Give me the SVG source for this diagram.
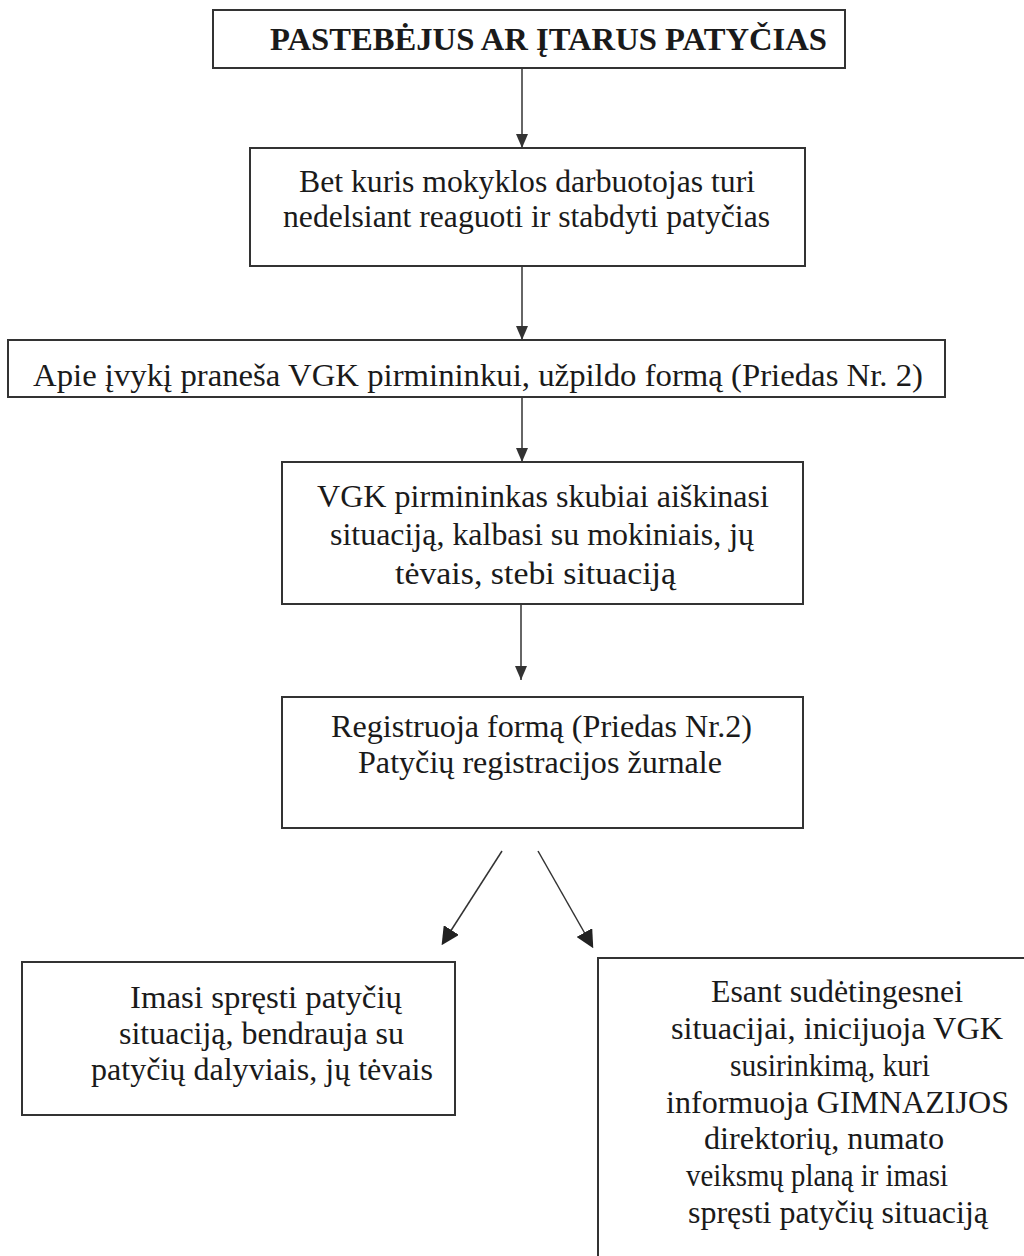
<svg xmlns="http://www.w3.org/2000/svg" width="1024" height="1256" viewBox="0 0 1024 1256">
<style>
.box{fill:#fff;stroke:#333;stroke-width:2}
.t{font-family:"Liberation Serif","DejaVu Serif",serif;font-size:32px;fill:#1a1a1a}
.b{font-weight:bold;font-size:31px}
.ln{stroke:#333;stroke-width:1.5;fill:none}
</style>
<defs>
<marker id="ah" viewBox="0 0 14 12" refX="14" refY="6" markerWidth="14" markerHeight="12" markerUnits="userSpaceOnUse" orient="auto">
<path d="M0,0 L14,6 L0,12 Z" fill="#333"/>
</marker>
<marker id="ad" viewBox="0 0 14 14" refX="12" refY="7" markerWidth="18" markerHeight="18" markerUnits="userSpaceOnUse" orient="auto">
<path d="M0,0 L14,7 L0,14 Z" fill="#222"/>
</marker>
</defs>
<rect width="1024" height="1256" fill="#fff"/>
<g id="connectors">
<line class="ln" x1="522" y1="68" x2="522" y2="148" marker-end="url(#ah)"/>
<line class="ln" x1="522" y1="266" x2="522" y2="340" marker-end="url(#ah)"/>
<line class="ln" x1="522" y1="397" x2="522" y2="462" marker-end="url(#ah)"/>
<line class="ln" x1="521" y1="604" x2="521" y2="680" marker-end="url(#ah)"/>
<line class="ln" x1="502" y1="851" x2="443" y2="943" marker-end="url(#ad)"/>
<line class="ln" x1="538" y1="851" x2="592" y2="946" marker-end="url(#ad)"/>
</g>
<g id="n1">
<rect class="box" x="213" y="10" width="632" height="58"/>
<text class="t b" x="270" y="50" textLength="557" lengthAdjust="spacingAndGlyphs">PASTEBĖJUS AR ĮTARUS PATYČIAS</text>
</g>
<g id="n2">
<rect class="box" x="250" y="148" width="555" height="118"/>
<text class="t" x="299" y="192" textLength="456" lengthAdjust="spacingAndGlyphs">Bet kuris mokyklos darbuotojas turi</text>
<text class="t" x="283" y="227" textLength="487" lengthAdjust="spacingAndGlyphs">nedelsiant reaguoti ir stabdyti patyčias</text>
</g>
<g id="n3">
<rect class="box" x="8" y="340" width="937" height="57"/>
<text class="t" x="33" y="386" textLength="890" lengthAdjust="spacingAndGlyphs">Apie įvykį praneša VGK pirmininkui, užpildo formą (Priedas Nr. 2)</text>
</g>
<g id="n4">
<rect class="box" x="282" y="462" width="521" height="142"/>
<text class="t" x="317" y="507" textLength="452" lengthAdjust="spacingAndGlyphs">VGK pirmininkas skubiai aiškinasi</text>
<text class="t" x="330" y="545" textLength="424" lengthAdjust="spacingAndGlyphs">situaciją, kalbasi su mokiniais, jų</text>
<text class="t" x="395" y="584" textLength="281" lengthAdjust="spacingAndGlyphs">tėvais, stebi situaciją</text>
</g>
<g id="n5">
<rect class="box" x="282" y="697" width="521" height="131"/>
<text class="t" x="331" y="737" textLength="421" lengthAdjust="spacingAndGlyphs">Registruoja formą (Priedas Nr.2)</text>
<text class="t" x="358" y="773" textLength="364" lengthAdjust="spacingAndGlyphs">Patyčių registracijos žurnale</text>
</g>
<g id="n6">
<rect class="box" x="22" y="962" width="433" height="153"/>
<text class="t" x="130" y="1008" textLength="272" lengthAdjust="spacingAndGlyphs">Imasi spręsti patyčių</text>
<text class="t" x="119" y="1044" textLength="285" lengthAdjust="spacingAndGlyphs">situaciją, bendrauja su</text>
<text class="t" x="91" y="1080" textLength="342" lengthAdjust="spacingAndGlyphs">patyčių dalyviais, jų tėvais</text>
</g>
<g id="n7">
<path class="box" d="M598,1256 L598,958 L1030,958 L1030,1256"/>
<text class="t" x="711" y="1002" textLength="252" lengthAdjust="spacingAndGlyphs">Esant sudėtingesnei</text>
<text class="t" x="671" y="1039" textLength="332" lengthAdjust="spacingAndGlyphs">situacijai, inicijuoja VGK</text>
<text class="t" x="730" y="1076" textLength="200" lengthAdjust="spacingAndGlyphs">susirinkimą, kuri</text>
<text class="t" x="666" y="1113" textLength="343" lengthAdjust="spacingAndGlyphs">informuoja GIMNAZIJOS</text>
<text class="t" x="704" y="1149" textLength="240" lengthAdjust="spacingAndGlyphs">direktorių, numato</text>
<text class="t" x="686" y="1186" textLength="262" lengthAdjust="spacingAndGlyphs">veiksmų planą ir imasi</text>
<text class="t" x="688" y="1223" textLength="300" lengthAdjust="spacingAndGlyphs">spręsti patyčių situaciją</text>
</g>
</svg>
